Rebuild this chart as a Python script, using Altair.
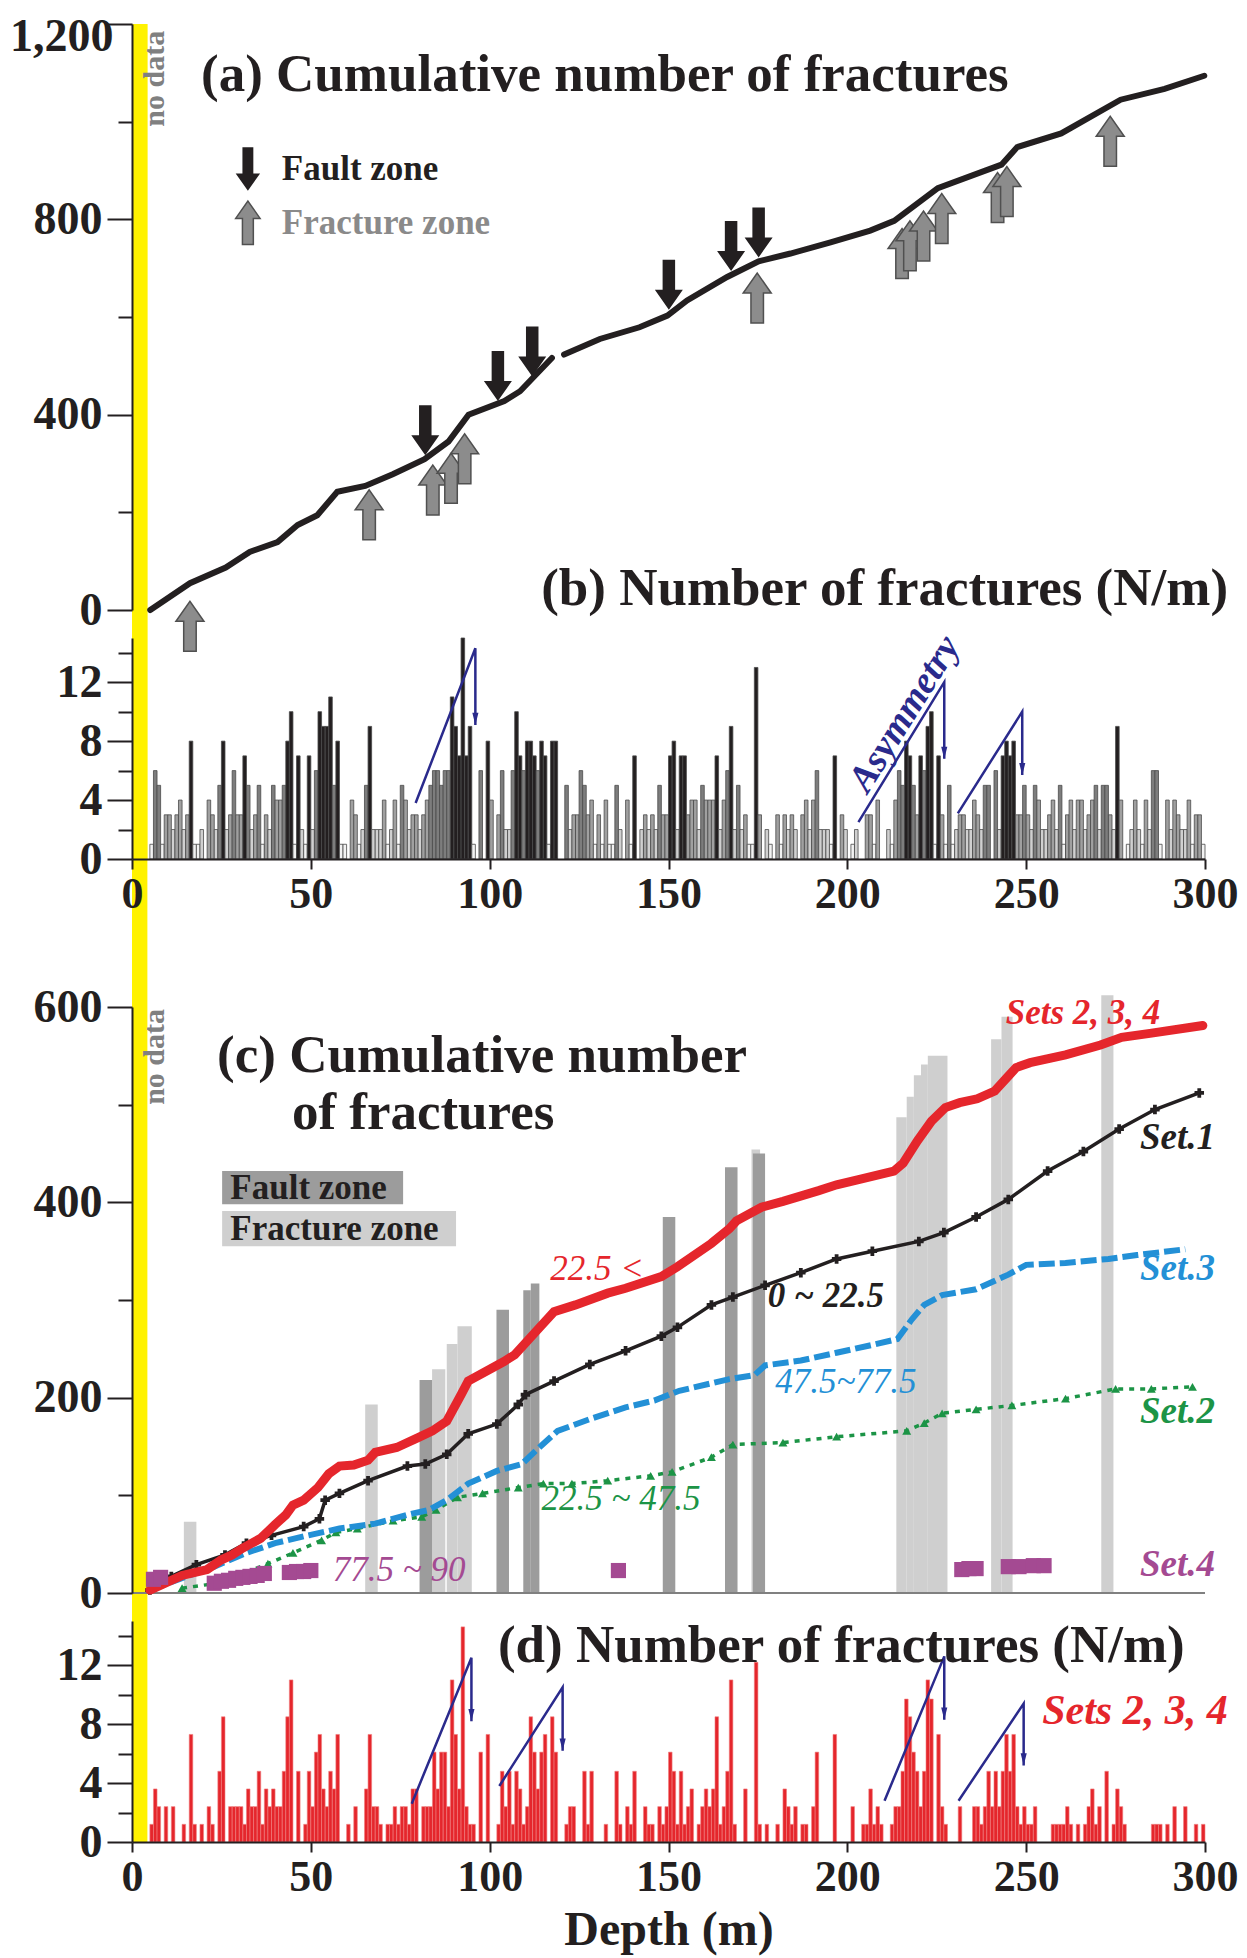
import altair as alt
import pandas as pd

FONT = "Liberation Serif"
INK = "#231f20"
RED = "#e5262c"
BLUE = "#2390d6"
GREEN = "#1c9446"
PURPLE = "#a44a92"
NAVY = "#2a2a8c"

DEPTH_DOMAIN = [0, 300]
NO_DATA = [0, 4.3]

# ---------------- (b) number of fractures per metre (1-m bins from 5 m) ----------------
B_START = 5
B_COUNTS = [
    1, 6, 5, 1, 3, 3, 2, 3, 4, 2,
    3, 8, 1, 1, 2, 0, 4, 3, 2, 5,
    8, 2, 3, 6, 3, 3, 7, 5, 2, 3,
    5, 1, 3, 2, 5, 4, 4, 5, 8, 10,
    1, 7, 2, 1, 7, 2, 6, 10, 9, 9,
    11, 5, 8, 1, 1, 0, 4, 3, 1, 2,
    5, 9, 2, 2, 2, 4, 1, 2, 4, 1,
    5, 4, 2, 3, 3, 2, 3, 4, 5, 6,
    6, 5, 6, 6, 11, 9, 7, 15, 7, 9,
    1, 0, 6, 0, 8, 4, 0, 3, 6, 2,
    2, 6, 10, 7, 6, 8, 8, 7, 6, 8,
    7, 1, 8, 8, 0, 0, 5, 2, 3, 3,
    6, 5, 3, 4, 1, 3, 1, 4, 1, 1,
    5, 2, 0, 4, 1, 7, 0, 2, 3, 2,
    3, 2, 5, 3, 3, 7, 8, 2, 7, 7,
    3, 4, 4, 2, 5, 4, 4, 4, 7, 2,
    4, 6, 9, 2, 5, 2, 3, 1, 1, 13,
    3, 0, 2, 1, 0, 3, 1, 3, 2, 3,
    2, 0, 3, 4, 2, 4, 6, 2, 2, 2,
    1, 7, 0, 3, 2, 0, 1, 2, 0, 0,
    3, 3, 1, 4, 0, 0, 2, 1, 4, 6,
    5, 8, 7, 5, 3, 7, 6, 9, 10, 1,
    7, 3, 1, 5, 1, 2, 3, 3, 2, 2,
    4, 3, 2, 5, 5, 0, 6, 2, 7, 8,
    7, 8, 3, 3, 5, 3, 2, 5, 4, 2,
    2, 3, 4, 2, 5, 1, 3, 4, 2, 4,
    4, 2, 3, 4, 5, 2, 5, 5, 3, 2,
    9, 4, 0, 1, 2, 4, 2, 1, 4, 2,
    6, 6, 1, 0, 4, 2, 4, 3, 2, 2,
    4, 1, 3, 3, 1,
]

# ---------------- (d) Sets 2, 3, 4 per metre (1-m bins from 5 m) ----------------
D_START = 5
D_VALUES = [
    1.2, 3.6, 2.4, 0, 2.4, 0, 2.4, 0, 0, 1.2,
    0, 7.3, 1.2, 0, 1.2, 0, 2.4, 1.2, 0, 4.8,
    8.5, 0, 2.4, 2.4, 2.4, 2.4, 1.2, 3.6, 2.4, 2.4,
    4.8, 1.2, 3.6, 2.4, 3.6, 2.4, 2.4, 4.8, 8.5, 11,
    0, 4.8, 0, 1.2, 4.8, 2.4, 6.1, 7.3, 3.6, 2.4,
    4.8, 3.6, 7.3, 0, 0, 1.2, 0, 2.4, 0, 0,
    3.6, 7.3, 2.4, 2.4, 1.2, 0, 1.2, 1.2, 2.4, 1.2,
    2.4, 2.4, 1.2, 3.6, 3.6, 0, 2.4, 2.4, 2.4, 6.1,
    3.6, 6.1, 6.1, 2.4, 11, 7.3, 3.6, 14.6, 2.4, 1.2,
    1.2, 0, 6.1, 0, 7.3, 0, 0, 1.2, 4.8, 2.4,
    4.8, 1.2, 4.8, 3.6, 1.2, 2.4, 8.5, 6.1, 3.6, 6.1,
    7.3, 0, 8.5, 6.1, 0, 0, 1.2, 2.4, 2.4, 0,
    0, 4.8, 1.2, 4.8, 0, 0, 0, 1.2, 0, 0,
    4.8, 1.2, 0, 2.4, 1.2, 4.8, 0, 0, 2.4, 1.2,
    1.2, 0, 2.4, 1.2, 2.4, 6.1, 4.8, 1.2, 4.8, 1.2,
    2.4, 3.6, 0, 1.2, 2.4, 3.6, 2.4, 3.6, 8.5, 1.2,
    2.4, 4.8, 11, 1.2, 0, 0, 3.6, 0, 0, 12.2,
    1.2, 0, 1.2, 0, 0, 1.2, 0, 3.6, 2.4, 1.2,
    2.4, 0, 1.2, 1.2, 0, 2.4, 6.1, 0, 0, 0,
    0, 7.3, 0, 0, 0, 0, 2.4, 0, 0, 1.2,
    1.2, 3.6, 1.2, 2.4, 1.2, 0, 0, 1.2, 2.4, 2.4,
    4.8, 9.7, 8.5, 6.1, 4.8, 2.4, 4.8, 11, 9.7, 0,
    7.3, 2.4, 1.2, 0, 0, 0, 2.4, 0, 0, 0,
    2.4, 2.4, 1.2, 2.4, 4.8, 2.4, 4.8, 2.4, 4.8, 7.3,
    4.8, 7.3, 2.4, 1.2, 2.4, 1.2, 1.2, 2.4, 0, 0,
    0, 0, 1.2, 1.2, 1.2, 1.2, 2.4, 1.2, 0, 1.2,
    0, 1.2, 2.4, 3.6, 1.2, 2.4, 0, 4.8, 0, 1.2,
    3.6, 2.4, 1.2, 0, 0, 0, 0, 0, 0, 0,
    1.2, 1.2, 1.2, 0, 1.2, 0, 2.4, 0, 0, 2.4,
    0, 0, 1.2, 0, 1.2,
]

# ---------------- (a) cumulative number of fractures ----------------
A_DEPTH = [5.1, 16.2, 26.2, 32.9, 40.7, 46.3, 51.8, 57.4, 65.2, 72.9, 81.8, 88.5, 94.1,
           104.1, 108.5, 117.4, 120.8, 130.8, 141.9, 149.7, 155.2, 166.4, 175.2, 184.1,
           195.3, 206.4, 213.1, 225.3, 243.1, 247.5, 259.8, 276.4, 288.7, 299.8]
A_CUM = [0, 55, 87, 119, 139, 174, 194, 242, 254, 278, 309, 345, 400,
         428, 448, 516, 523, 555, 579, 603, 634, 682, 714, 730,
         753, 777, 797, 864, 912, 948, 976, 1045, 1067, 1094]
A_GAP = 119

FAULT_D = [82.0, 102.3, 111.9, 150.1, 167.5, 175.2]
FAULT_TIP = [317, 428, 478, 615, 694, 722]
FRAC_D = [16.2, 66.3, 84.1, 89.2, 93.0, 174.8, 215.3, 217.5, 221.3, 226.4, 242.0, 244.6, 273.5]
FRAC_TIP = [18, 246, 297, 321, 361, 690, 781, 797, 817, 853, 896, 908, 1011]

# ---------------- (c) cumulative number by set ----------------
RED_D = [5, 14, 21, 25, 28, 31, 36, 40, 43, 45, 48, 52, 55, 58, 62, 66, 68, 74, 80, 84, 88,
         92, 94, 98, 104, 107, 113, 118, 124, 133, 138, 148, 152.5, 162, 167, 169, 176, 182,
         192, 197, 204, 213, 215.6, 219.6, 223.5, 227.4, 231.4, 236.3, 241.2, 245.2, 247.2,
         251.1, 261, 270.8, 276.7, 284.6, 299.4]
RED_V = [3, 18, 24, 34, 39, 46, 56, 70, 80, 90, 95, 108, 122, 130, 131, 136, 144, 149, 159,
         166, 176, 203, 217, 225, 237, 244, 268, 288, 295, 307, 312, 324, 334, 358, 373, 381,
         395, 401, 412, 418, 424, 432, 440, 463, 483, 497, 502, 506, 514, 530, 538, 543, 551,
         561, 569, 573, 581]
BLACK_D = [5, 11, 18, 26, 32, 39, 48, 52.4, 54, 58, 66, 77, 82, 88, 94, 102, 108, 110, 118,
           128, 138, 148, 152.5, 162, 168, 177, 187, 197, 207, 220, 227, 236, 245, 256, 266,
           276, 286, 298.4]
BLACK_V = [3, 17, 29, 39, 51, 59, 68, 76, 95, 102, 115, 130, 132, 142, 163, 173, 193, 203,
           217, 234, 248, 263, 272, 295, 303, 315, 328, 342, 350, 360, 369, 385, 403, 432,
           452, 475, 495, 512]
BLUE_D = [5, 13, 23, 32, 40, 48, 58, 68, 78, 83, 88, 94, 102, 109, 113, 119, 128, 138, 146,
          153, 167, 174, 177, 187, 197, 207, 214, 218, 221.5, 226.5, 236, 245, 250, 261, 273,
          281, 294.5]
BLUE_V = [3, 14, 27, 41, 51, 58, 66, 71, 81, 85, 95, 112, 125, 132, 146, 166, 178, 190, 197,
          207, 219, 223, 233, 238, 246, 254, 260, 280, 295, 305, 311, 326, 336, 338, 342, 346,
          352]
GREEN_D = [14, 24, 31, 38, 45, 53, 57, 63, 73, 81, 85, 91, 98, 108, 115, 123, 133, 145, 151,
           162, 168, 182, 197, 216.6, 221.5, 226.5, 236, 246, 261, 275, 285, 296.5]
GREEN_V = [5, 10, 20, 30, 41, 54, 62, 66, 74, 78, 85, 98, 102, 108, 112, 112, 115, 120, 124,
           139, 152, 154, 160, 166, 174, 184, 188, 192, 199, 209, 209, 211]
SET4_D = [6, 8, 23, 25, 27, 29, 31, 33, 35, 37, 44, 46, 48, 50, 136, 232, 234, 236, 245, 248, 252, 255]
SET4_V = [14, 16, 10, 12, 13, 15, 16, 17, 18, 20, 21, 22, 22, 23, 23, 24, 25, 25, 27, 27, 28, 28]

# fault / fracture zone columns in (c): from, to, height
FRACZ_FROM = [14.5, 65.2, 83.9, 88.0, 91.0, 173.2, 213.7, 216.6, 218.6, 220.6, 222.5, 240.2, 243.1, 271.0]
FRACZ_TO = [18.0, 68.7, 87.6, 91.0, 95.0, 175.6, 216.6, 218.6, 220.6, 222.5, 228.0, 243.1, 246.2, 274.4]
FRACZ_TOP = [73, 193, 229, 255, 273, 454, 487, 508, 530, 541, 550, 567, 590, 612]
FAULTZ_FROM = [80.4, 101.9, 109.4, 111.5, 148.4, 165.8, 173.6]
FAULTZ_TO = [83.9, 105.4, 111.5, 113.9, 151.9, 169.3, 177.0]
FAULTZ_TOP = [218, 290, 310, 317, 385, 436, 450]

# asymmetry sketches (depth, value) polylines
ASYM_B_D = [[79.3, 96.0, 96.0], [203.1, 227.1, 227.1], [230.9, 248.9, 248.9]]
ASYM_B_V = [[3.8, 14.3, 9.1], [2.5, 12.0, 6.8], [3.1, 10.0, 5.7]]
ASYM_D_D = [[78.2, 94.9, 94.9], [102.7, 120.4, 120.4], [210.4, 227.1, 227.1], [231.1, 249.3, 249.3]]
ASYM_D_V = [[2.6, 12.5, 8.2], [3.8, 10.5, 6.2], [2.8, 12.6, 8.3], [2.8, 9.4, 5.2]]

# ---------------- layout helpers ----------------
W, H = 1073, 1818
PANEL = {
    "a": ([0, 1200], [586, 0]),
    "b": ([0, 15], [835, 614]),
    "c": ([0, 600], [1569, 983]),
    "d": ([0, 15], [1818, 1597]),
}
YTICK_FS = 46
XTICK_FS = 44
TITLE_FS = 53


def xenc(field="depth", axis=None):
    return alt.X(f"{field}:Q", scale=alt.Scale(domain=DEPTH_DOMAIN, nice=False, zero=False), axis=axis)


def yenc(panel, field="val", axis=None):
    dom, rng = PANEL[panel]
    return alt.Y(f"{field}:Q", scale=alt.Scale(domain=dom, range=rng, nice=False, zero=False), axis=axis)


def yaxis(values, major, fmt):
    return alt.Axis(orient="left", values=values, title=None, grid=False, zindex=2,
                    labelExpr=f"datum.value % {major} === 0 ? {fmt} : ''",
                    tickSize={"condition": {"test": f"datum.value % {major} !== 0", "value": 14}, "value": 25},
                    labelPadding={"condition": {"test": "datum.value === 1200", "value": -6}, "value": 5},
                    labelOffset={"condition": {"test": "datum.value === 1200", "value": 12}, "value": 0},
                    tickWidth=2, tickColor=INK, domainColor=INK, domainWidth=2,
                    labelFont=FONT, labelFontSize=YTICK_FS, labelFontWeight="bold", labelColor=INK,
                    labelOverlap=False)


XAX = dict(values=list(range(0, 301, 50)), grid=False, zindex=2, tickSize=10, tickWidth=2,
           tickColor=INK, domainColor=INK, domainWidth=2, labelFont=FONT, labelFontSize=XTICK_FS,
           labelFontWeight="bold", labelColor=INK, labelPadding=3, labelFlush=False, format="d")
TOP_X = alt.Axis(orient="bottom", offset=-(PANEL["d"][1][0] - PANEL["b"][1][0]), title=None, **XAX)
BOTTOM_X = alt.Axis(orient="bottom", title="Depth (m)", titleFont=FONT, titleFontSize=48,
                    titleFontWeight="bold", titleColor=INK, titlePadding=7, **XAX)


def top_value(panel):
    dom, rng = PANEL[panel]
    return dom[1] * rng[0] / (rng[0] - rng[1])


def label(rows, panel, size, color, align="left", weight="bold", style="normal", angle=0):
    df = pd.DataFrame(rows, columns=["label", "depth", "val"])
    return alt.Chart(df).mark_text(align=align, baseline="middle", font=FONT, fontSize=size,
                                   fontWeight=weight, fontStyle=style, color=color, angle=angle).encode(
        x=xenc(), y=yenc(panel), text="label:N")


layers = []

# yellow "no data" band (spans a+b and c+d)
for p in ["b", "d"]:
    band = pd.DataFrame({"depth": [NO_DATA[0]], "depth2": [NO_DATA[1]], "val": [0], "val2": [top_value(p)]})
    layers.append(alt.Chart(band).mark_rect(color="#fff200").encode(
        x=xenc(), x2="depth2:Q", y=yenc(p), y2="val2:Q"))

# (c) zone columns
zones = pd.concat([
    pd.DataFrame({"depth": FRACZ_FROM, "depth2": FRACZ_TO, "val": FRACZ_TOP, "kind": "fracture"}),
    pd.DataFrame({"depth": FAULTZ_FROM, "depth2": FAULTZ_TO, "val": FAULTZ_TOP, "kind": "fault"}),
])
zones["base"] = 0
layers.append(alt.Chart(zones).mark_rect().encode(
    x=xenc(), x2="depth2:Q", y=yenc("c"), y2="base:Q",
    color=alt.Color("kind:N", scale=alt.Scale(domain=["fault", "fracture"], range=["#9c9c9c", "#cfcfcf"]), legend=None),
    order=alt.Order("kind:N", sort="descending")))

# (c) baseline
base = pd.DataFrame({"depth": [DEPTH_DOMAIN[0]], "depth2": [DEPTH_DOMAIN[1]], "val": [0]})
layers.append(alt.Chart(base).mark_rule(color="#808080", strokeWidth=2).encode(
    x=xenc(), x2="depth2:Q", y=yenc("c")))

# (a) cumulative curve
a_df = pd.DataFrame({"depth": A_DEPTH, "val": A_CUM})
a_df["seg"] = (a_df.depth > A_GAP).astype(int)
layers.append(alt.Chart(a_df).mark_line(color=INK, strokeWidth=6, strokeCap="round").encode(
    x=xenc(), y=yenc("a", axis=yaxis(list(range(0, 1201, 200)), 400, "format(datum.value, ',')")),
    detail="seg:N"))

# (a) arrows
DOWN = "M-0.25,-1L0.25,-1L0.25,0.2L0.56,0.2L0,1L-0.56,0.2L-0.25,0.2Z"
UP = "M-0.25,1L0.25,1L0.25,-0.2L0.56,-0.2L0,-1L-0.56,-0.2L-0.25,-0.2Z"
fa = pd.DataFrame({"depth": FAULT_D, "val": FAULT_TIP})
fr = pd.DataFrame({"depth": FRAC_D, "val": FRAC_TIP})
layers.append(alt.Chart(fr).mark_point(shape=UP, filled=True, size=2500, color="#8c8c8c", stroke="#505050",
                                       strokeWidth=1.5, opacity=1, yOffset=25).encode(x=xenc(), y=yenc("a")))
layers.append(alt.Chart(fa).mark_point(shape=DOWN, filled=True, size=2500, color=INK, opacity=1,
                                       yOffset=-25).encode(x=xenc(), y=yenc("a")))
# legend arrows (a)
leg_a = pd.DataFrame({"depth": [32.4], "val": [903]})
leg_b = pd.DataFrame({"depth": [32.4], "val": [793]})
layers.append(alt.Chart(leg_a).mark_point(shape=DOWN, filled=True, size=1900, color=INK, opacity=1).encode(
    x=xenc(), y=yenc("a")))
layers.append(alt.Chart(leg_b).mark_point(shape=UP, filled=True, size=1900, color="#8c8c8c", stroke="#505050",
                                          strokeWidth=1.5, opacity=1).encode(x=xenc(), y=yenc("a")))

# (b) bars
b_df = pd.DataFrame({"depth": [B_START + i for i in range(len(B_COUNTS))], "val": B_COUNTS})
b_df["depth2"] = b_df.depth + 1
b_df["base"] = 0
b_df = b_df[b_df.val > 0]
layers.append(alt.Chart(b_df).mark_rect(stroke="#4a4a4a", strokeWidth=0.8).encode(
    x=xenc(axis=TOP_X), x2="depth2:Q",
    y=yenc("b", axis=yaxis(list(range(0, 15, 2)), 4, "datum.label")), y2="base:Q",
    color=alt.Color("val:Q", scale=alt.Scale(type="threshold", domain=[2, 3, 5, 7],
                                             range=["#f2f2f2", "#d0d0d0", "#a0a0a0", "#7d7d7d", INK]),
                    legend=None)))

# (d) bars
d_df = pd.DataFrame({"depth": [D_START + i for i in range(len(D_VALUES))], "val": D_VALUES})
d_df["depth2"] = d_df.depth + 1
d_df["base"] = 0
d_df = d_df[d_df.val > 0]
layers.append(alt.Chart(d_df).mark_rect(color=RED, stroke="#f08080", strokeWidth=0.6).encode(
    x=xenc(axis=BOTTOM_X), x2="depth2:Q",
    y=yenc("d", axis=yaxis(list(range(0, 15, 2)), 4, "datum.label")), y2="base:Q"))

# (c) curves
green = pd.DataFrame({"depth": GREEN_D, "val": GREEN_V})
layers.append(alt.Chart(green).mark_line(color=GREEN, strokeWidth=3.5, strokeDash=[5, 6]).encode(
    x=xenc(), y=yenc("c")))
layers.append(alt.Chart(green).mark_point(shape="triangle-up", filled=True, size=80, color=GREEN, opacity=1).encode(
    x=xenc(), y=yenc("c")))
blue = pd.DataFrame({"depth": BLUE_D, "val": BLUE_V})
layers.append(alt.Chart(blue).mark_line(color=BLUE, strokeWidth=6, strokeDash=[16, 5]).encode(
    x=xenc(), y=yenc("c")))
black = pd.DataFrame({"depth": BLACK_D, "val": BLACK_V})
layers.append(alt.Chart(black).mark_line(color=INK, strokeWidth=3.5).encode(x=xenc(), y=yenc("c")))
layers.append(alt.Chart(black).mark_point(shape="cross", filled=True, size=90, color=INK, opacity=1).encode(
    x=xenc(), y=yenc("c")))
red = pd.DataFrame({"depth": RED_D, "val": RED_V})
layers.append(alt.Chart(red).mark_line(color=RED, strokeWidth=9, strokeCap="round").encode(
    x=xenc(), y=yenc("c", axis=yaxis(list(range(0, 601, 100)), 200, "format(datum.value, ',')"))))
s4 = pd.DataFrame({"depth": SET4_D, "val": SET4_V})
layers.append(alt.Chart(s4).mark_square(size=230, color=PURPLE, opacity=1).encode(x=xenc(), y=yenc("c")))

# (c) legend boxes
lb = pd.DataFrame({"depth": [25.2, 25.2], "depth2": [75.8, 90.6], "val": [432, 391], "val2": [398, 355],
                   "kind": ["fault", "fracture"]})
layers.append(alt.Chart(lb).mark_rect().encode(
    x=xenc(), x2="depth2:Q", y=yenc("c"), y2="val2:Q",
    color=alt.Color("kind:N", scale=alt.Scale(domain=["fault", "fracture"], range=["#9c9c9c", "#cfcfcf"]), legend=None)))


# asymmetry sketches
def asym(dl, vl, panel):
    rows = []
    for i, (ds, vs) in enumerate(zip(dl, vl)):
        for j, (d, v) in enumerate(zip(ds, vs)):
            rows.append({"id": i, "seq": j, "depth": d, "val": v})
    df = pd.DataFrame(rows)
    tips = df[df.seq == 2]
    ln = alt.Chart(df).mark_line(color=NAVY, strokeWidth=2.5).encode(
        x=xenc(), y=yenc(panel), detail="id:N", order="seq:Q")
    hd = alt.Chart(tips).mark_point(shape="M-0.5,-1L0.5,-1L0,1Z", filled=True, size=150, color=NAVY,
                                    opacity=1, yOffset=-6).encode(x=xenc(), y=yenc(panel))
    return [ln, hd]


layers += asym(ASYM_B_D, ASYM_B_V, "b")
layers += asym(ASYM_D_D, ASYM_D_V, "d")

# texts
layers.append(label([["(a) Cumulative number of fractures", 19.3, 1096],
                     ["(b) Number of fractures (N/m)", 114.4, 43]], "a", TITLE_FS, INK))
layers.append(label([["Fault zone", 41.9, 903]], "a", 35, INK))
layers.append(label([["Fracture zone", 41.9, 793]], "a", 35, "#8a8a8a"))
layers.append(label([["no data", 6.4, 1186]], "a", 30, "#808080", align="right", angle=270))
layers.append(label([["Asymmetry", 216.1, 9.84]], "b", 38, NAVY, align="center", style="italic", angle=302))
layers.append(label([["(c) Cumulative number", 23.8, 550], ["of fractures", 44.7, 491]], "c", TITLE_FS, INK))
layers.append(label([["Fault zone", 27.5, 415], ["Fracture zone", 27.5, 373]], "c", 35, INK))
layers.append(label([["no data", 6.4, 598]], "c", 30, "#808080", align="right", angle=270))
layers.append(label([["Sets 2, 3, 4", 265.9, 594]], "c", 35, RED, align="center", style="italic"))
layers.append(label([["Set.1", 302.8, 466]], "c", 37, INK, align="right", style="italic"))
layers.append(label([["Set.3", 302.8, 332]], "c", 37, BLUE, align="right", style="italic"))
layers.append(label([["Set.2", 302.8, 185]], "c", 37, GREEN, align="right", style="italic"))
layers.append(label([["Set.4", 302.8, 29]], "c", 37, PURPLE, align="right", style="italic"))
layers.append(label([["0 ~ 22.5", 194, 304]], "c", 35, INK, align="center", style="italic"))
layers.append(label([["22.5 <", 130, 332]], "c", 35, RED, align="center", weight="normal", style="italic"))
layers.append(label([["47.5~77.5", 199.6, 216]], "c", 35, BLUE, align="center", weight="normal", style="italic"))
layers.append(label([["22.5 ~ 47.5", 136.7, 96]], "c", 35, GREEN, align="center", weight="normal", style="italic"))
layers.append(label([["77.5 ~ 90", 74.7, 23.5]], "c", 35, PURPLE, align="center", weight="normal", style="italic"))
layers.append(label([["(d) Number of fractures (N/m)", 102.3, 13.3]], "d", TITLE_FS, INK))
layers.append(label([["Sets 2, 3, 4", 280.4, 8.9]], "d", 42, RED, align="center", style="italic"))

chart = alt.layer(*layers).resolve_scale(
    x="independent", y="independent", color="independent"
).properties(
    width=W, height=H,
    autosize=alt.AutoSizeParams(type="none"),
    padding={"left": 124, "top": 16, "right": 34, "bottom": 116},
).configure_view(stroke=None)

chart.save("out.html", embed_options={"renderer": "svg", "actions": False})
